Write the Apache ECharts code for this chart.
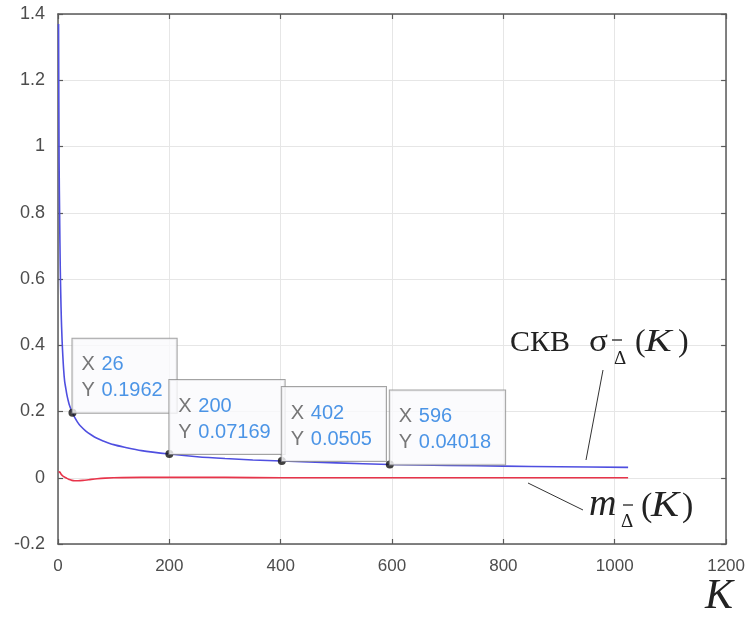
<!DOCTYPE html>
<html>
<head>
<meta charset="utf-8">
<script src="https://cdn.jsdelivr.net/npm/echarts@6/dist/echarts.min.js"></script>
<style>
  html, body { margin: 0; padding: 0; background: #fff; }
  #chart { width: 748px; height: 633px; }
</style>
</head>
<body>
<div id="chart"></div>
<script>
// Sample counts K and the RMS deviation σ(K)
const sigmaK = [1, 2, 3, 4, 5, 6, 7, 8, 10, 12, 14, 16, 18, 20, 23, 26, 30, 35, 40, 50, 60, 70, 80, 100, 120, 150, 200, 250, 300, 350, 402, 450, 500, 596, 700, 800, 900, 1024];
const sigmaV = [1.37, 0.95, 0.78, 0.64, 0.55, 0.48, 0.43, 0.39, 0.33, 0.29, 0.27, 0.25, 0.235, 0.222, 0.208, 0.1962, 0.182, 0.168, 0.157, 0.141, 0.129, 0.119, 0.112, 0.100, 0.092, 0.082, 0.07169, 0.0635, 0.0580, 0.0538, 0.0505, 0.0475, 0.0449, 0.04018, 0.0375, 0.0352, 0.0332, 0.0312];

// Mean deviation m(K)
const meanK = [1, 3, 5, 8, 12, 16, 20, 25, 30, 36, 45, 55, 70, 85, 100, 150, 200, 300, 400, 500, 600, 700, 800, 900, 1024];
const meanV = [0.016, 0.018, 0.012, 0.006, 0.002, -0.002, -0.005, -0.008, -0.009, -0.009, -0.008, -0.006, -0.003, -0.001, 0.0, 0.001, 0.001, 0.001, 0.0, 0.0, 0.0, 0.0, 0.0, 0.0, 0.0];

// Data tips placed on the σ(K) curve
const tipK = [26, 200, 402, 596];
const tipV = [0.1962, 0.07169, 0.0505, 0.04018];

// Axis ticks
const xTicks = [0, 200, 400, 600, 800, 1000, 1200];
const yTicks = [-0.2, 0, 0.2, 0.4, 0.6, 0.8, 1, 1.2, 1.4];

const SANS = '"Liberation Sans", Arial, sans-serif';
const SERIF = '"Liberation Serif", "Times New Roman", serif';
const AXIS_COLOR = '#5a5a5a';
const LABEL_COLOR = '#4d4d4d';
const INK = '#222222';

const xMin = xTicks[0], xMax = xTicks[xTicks.length - 1], xStep = xTicks[1] - xTicks[0];
const yMin = yTicks[0], yMax = yTicks[yTicks.length - 1], yStep = 0.2;

function valueAxis(extra) {
  return Object.assign({
    type: 'value',
    axisLine: { show: true, onZero: false, lineStyle: { color: AXIS_COLOR, width: 1.5 } },
    axisTick: { show: true, inside: true, length: 5, lineStyle: { color: AXIS_COLOR, width: 1.2 } },
    splitLine: { show: false },
    axisLabel: { show: false }
  }, extra);
}

// A glyph placed by its baseline; size in px, optional horizontal stretch
function glyph(text, x, baseline, size, opts) {
  opts = opts || {};
  return {
    type: 'text',
    x: x,
    y: baseline - 0.305 * size,
    scaleX: opts.sx || 1,
    style: {
      text: text,
      font: (opts.italic ? 'italic ' : '') + size + 'px ' + SERIF,
      fill: INK,
      align: 'left',
      verticalAlign: 'middle'
    },
    z: 10
  };
}

function bar(x1, x2, y) {
  return { type: 'line', shape: { x1: x1, y1: y, x2: x2, y2: y }, style: { stroke: INK, lineWidth: 1.3 }, z: 10 };
}

function leader(x1, y1, x2, y2) {
  return { type: 'line', shape: { x1: x1, y1: y1, x2: x2, y2: y2 }, style: { stroke: '#333', lineWidth: 1 }, z: 10 };
}

const chart = echarts.init(document.getElementById('chart'), null, { renderer: 'canvas' });

const option = {
  backgroundColor: '#ffffff',
  animation: false,
  grid: { left: 58, right: 21, top: 14, bottom: 89, containLabel: false },
  xAxis: [
    valueAxis({
      position: 'bottom', min: xMin, max: xMax, interval: xStep,
      splitLine: { show: true, lineStyle: { color: '#e6e6e6', width: 1 } },
      axisLabel: { show: true, color: LABEL_COLOR, fontFamily: SANS, fontSize: 17, margin: 14,
        formatter: v => String(v) }
    }),
    valueAxis({ position: 'top', min: xMin, max: xMax, interval: xStep })
  ],
  yAxis: [
    valueAxis({
      position: 'left', min: yMin, max: yMax, interval: yStep,
      splitLine: { show: true, lineStyle: { color: '#e6e6e6', width: 1 } },
      axisLabel: { show: true, color: LABEL_COLOR, fontFamily: SANS, fontSize: 18, margin: 13,
        formatter: v => String(Math.round(v * 10) / 10) }
    }),
    valueAxis({ position: 'right', min: yMin, max: yMax, interval: yStep })
  ],
  series: [
    {
      name: 'sigma',
      type: 'line',
      xAxisIndex: 0, yAxisIndex: 0,
      data: sigmaK.map((k, i) => [k, sigmaV[i]]),
      showSymbol: false,
      smooth: 0.3,
      lineStyle: { color: '#4f4fe0', width: 1.6 },
      z: 3
    },
    {
      name: 'mean',
      type: 'line',
      xAxisIndex: 0, yAxisIndex: 0,
      data: meanK.map((k, i) => [k, meanV[i]]),
      showSymbol: false,
      smooth: 0.3,
      lineStyle: { color: '#e8344a', width: 1.6 },
      z: 3
    },
    {
      name: 'tips',
      type: 'scatter',
      xAxisIndex: 0, yAxisIndex: 0,
      data: tipK.map((k, i) => [k, tipV[i]]),
      symbol: 'circle',
      symbolSize: 8,
      itemStyle: { color: '#111' },
      z: 5,
      label: {
        show: true,
        position: [4, 4],
        align: 'left',
        verticalAlign: 'bottom',
        backgroundColor: '#fafafd',
        borderColor: '#8c8c8c',
        borderWidth: 1,
        padding: [13, 14, 9, 9],
        formatter: p => `{k|X}{v|${p.value[0]}}\n{k|Y}{v|${p.value[1]}}`,
        rich: {
          k: { color: '#555555', fontFamily: SANS, fontSize: 20, lineHeight: 26, width: 20 },
          v: { color: '#1f7ae0', fontFamily: SANS, fontSize: 20, lineHeight: 26 }
        }
      }
    }
  ],
  graphic: [
    // σ(K) annotation
    glyph('СКВ', 510, 352, 30),
    glyph('σ', 589, 352, 32, { sx: 1.1 }),
    bar(612, 622, 340),
    glyph('Δ', 614, 365, 19),
    glyph('(', 635, 352, 32),
    glyph('K', 645, 352, 32, { italic: true, sx: 1.25 }),
    glyph(')', 678, 352, 32),
    leader(603, 370, 586, 460),

    // m(K) annotation
    glyph('m', 589, 517, 38, { italic: true }),
    bar(623, 633, 505),
    glyph('Δ', 621, 528, 19),
    glyph('(', 641, 517, 34),
    glyph('K', 651, 517, 35, { italic: true, sx: 1.2 }),
    glyph(')', 682, 517, 34),
    leader(528, 483, 583, 510),

    // axis title
    glyph('K', 705, 610, 42, { italic: true })
  ]
};

chart.setOption(option);
</script>
</body>
</html>
